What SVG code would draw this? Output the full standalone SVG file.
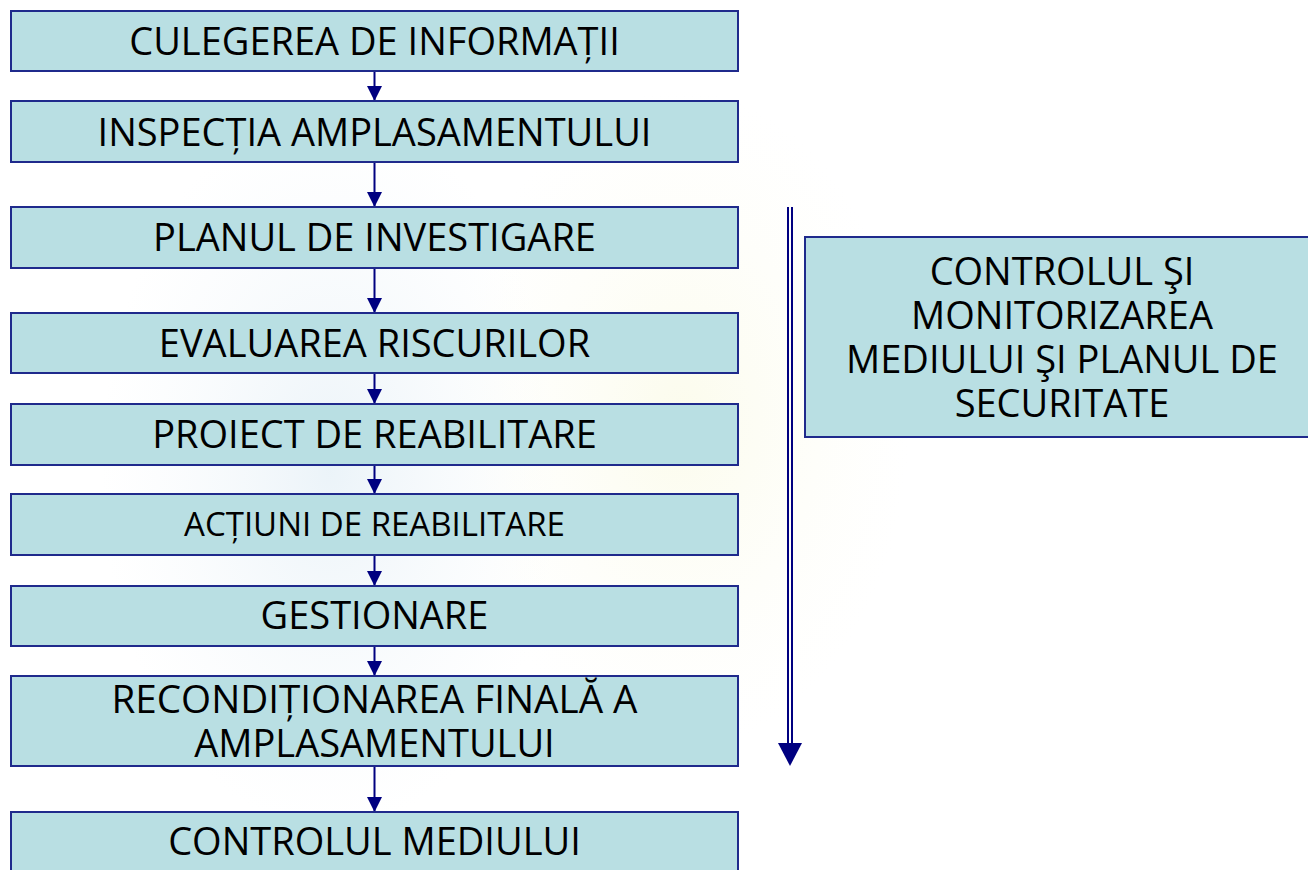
<svg xmlns="http://www.w3.org/2000/svg" width="1308" height="870" viewBox="0 0 1308 870">
<defs>
<style>
.box{fill:#B9DFE3;stroke:#1F2A8C;stroke-width:2}
.t{font-family:"Open Sans","Noto Sans","DejaVu Sans",sans-serif;font-size:38px;fill:#000;text-anchor:middle}
.t6{font-size:33px}
.conn{stroke:#000080;stroke-width:2;fill:none}
</style>
<marker id="ah" markerUnits="userSpaceOnUse" markerWidth="15" markerHeight="15" refX="15" refY="7.5" orient="auto" viewBox="0 0 15 15">
<path d="M0,0 L15,7.5 L0,15 z" fill="#000080"/>
</marker>
<radialGradient id="wb" cx="0.5" cy="0.5" r="0.5">
<stop offset="0" stop-color="#E9F2F8" stop-opacity="0.9"/>
<stop offset="1" stop-color="#F4F8FB" stop-opacity="0"/>
</radialGradient>
<radialGradient id="wy" cx="0.5" cy="0.5" r="0.5">
<stop offset="0" stop-color="#FBFBEA" stop-opacity="0.9"/>
<stop offset="1" stop-color="#FDFDF5" stop-opacity="0"/>
</radialGradient>
</defs>
<rect width="1308" height="870" fill="#FFFFFF"/>
<g id="watermark">
<ellipse cx="330" cy="470" rx="230" ry="360" fill="url(#wb)"/>
<ellipse cx="680" cy="420" rx="230" ry="330" fill="url(#wy)"/>
</g>
<g id="connectors">
<line class="conn" x1="374.5" y1="71" x2="374.5" y2="101" marker-end="url(#ah)"/>
<line class="conn" x1="374.5" y1="162" x2="374.5" y2="207" marker-end="url(#ah)"/>
<line class="conn" x1="374.5" y1="268" x2="374.5" y2="313" marker-end="url(#ah)"/>
<line class="conn" x1="374.5" y1="373" x2="374.5" y2="404" marker-end="url(#ah)"/>
<line class="conn" x1="374.5" y1="465" x2="374.5" y2="494" marker-end="url(#ah)"/>
<line class="conn" x1="374.5" y1="555" x2="374.5" y2="586" marker-end="url(#ah)"/>
<line class="conn" x1="374.5" y1="646" x2="374.5" y2="676" marker-end="url(#ah)"/>
<line class="conn" x1="374.5" y1="766" x2="374.5" y2="812" marker-end="url(#ah)"/>
<g id="double-arrow">
<line x1="788" y1="207" x2="788" y2="746" stroke="#000080" stroke-width="2"/>
<line x1="792" y1="207" x2="792" y2="746" stroke="#000080" stroke-width="2"/>
<polygon points="778,743 802,743 790,766" fill="#000080"/>
</g>
</g>
<g id="n1"><rect class="box" x="11" y="11" width="727" height="60"/><text class="t" x="374.5" y="55">CULEGEREA DE INFORMAȚII</text></g>
<g id="n2"><rect class="box" x="11" y="101" width="727" height="61"/><text class="t" x="374.5" y="146">INSPECȚIA AMPLASAMENTULUI</text></g>
<g id="n3"><rect class="box" x="11" y="207" width="727" height="61"/><text class="t" x="374.5" y="251">PLANUL DE INVESTIGARE</text></g>
<g id="n4"><rect class="box" x="11" y="313" width="727" height="60"/><text class="t" x="374.5" y="357">EVALUAREA RISCURILOR</text></g>
<g id="n5"><rect class="box" x="11" y="404" width="727" height="61"/><text class="t" x="374.5" y="448">PROIECT DE REABILITARE</text></g>
<g id="n6"><rect class="box" x="11" y="494" width="727" height="61"/><text class="t t6" x="374.5" y="536">ACȚIUNI DE REABILITARE</text></g>
<g id="n7"><rect class="box" x="11" y="586" width="727" height="60"/><text class="t" x="374.5" y="629">GESTIONARE</text></g>
<g id="n8"><rect class="box" x="11" y="676" width="727" height="90"/><text class="t" x="374.5" y="713" textLength="526" lengthAdjust="spacingAndGlyphs">RECONDIȚIONAREA FINALĂ A</text><text class="t" x="374.5" y="757">AMPLASAMENTULUI</text></g>
<g id="n9"><rect class="box" x="11" y="812" width="727" height="70"/><text class="t" x="374.5" y="855">CONTROLUL MEDIULUI</text></g>
<g id="n10"><rect class="box" x="805" y="237" width="515" height="200"/>
<text class="t" x="1062" y="285">CONTROLUL ŞI</text>
<text class="t" x="1062" y="329">MONITORIZAREA</text>
<text class="t" x="1062" y="373">MEDIULUI ŞI PLANUL DE</text>
<text class="t" x="1062" y="417">SECURITATE</text>
</g>
</svg>
